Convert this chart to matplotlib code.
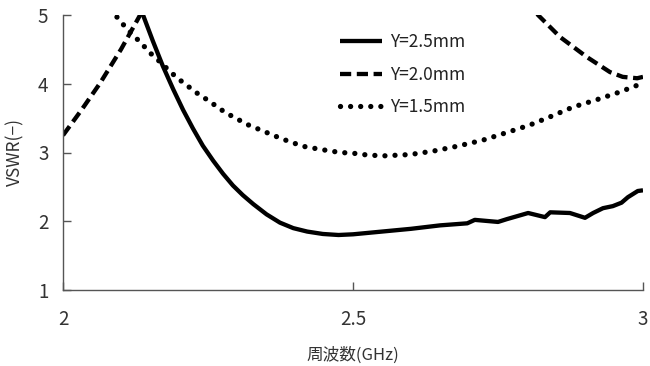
import matplotlib
matplotlib.use("Agg")
import matplotlib.pyplot as plt

plt.rcParams['font.family'] = ['Noto Sans CJK JP', 'DejaVu Sans']

# Y=2.5mm (solid)
f_25 = [2.13, 2.138, 2.155, 2.172, 2.19, 2.207, 2.224, 2.241, 2.259, 2.276, 2.293,
        2.31, 2.328, 2.351, 2.374, 2.397, 2.421, 2.448, 2.475, 2.5, 2.55, 2.6,
        2.65, 2.697, 2.71, 2.75, 2.765, 2.802, 2.831, 2.84, 2.874, 2.9, 2.914,
        2.931, 2.948, 2.963, 2.974, 2.991, 3.0]
v_25 = [5.2, 5.0, 4.62, 4.26, 3.92, 3.62, 3.35, 3.10, 2.88, 2.69, 2.52,
        2.38, 2.25, 2.10, 1.98, 1.90, 1.85, 1.815, 1.80, 1.81, 1.85, 1.89,
        1.94, 1.97, 2.02, 1.99, 2.03, 2.12, 2.06, 2.13, 2.12, 2.05, 2.12,
        2.19, 2.22, 2.27, 2.35, 2.44, 2.45]

# Y=2.0mm (dashed) - goes above the top of the plot in the middle
f_20 = [2.0, 2.032, 2.064, 2.1, 2.133, 2.145, 2.5, 2.80, 2.819, 2.857, 2.903,
        2.943, 2.965, 2.99, 3.0]
v_20 = [3.25, 3.62, 4.01, 4.5, 5.0, 5.25, 8.0, 5.3, 5.0, 4.68, 4.39,
        4.17, 4.1, 4.08, 4.1]

# Y=1.5mm (dotted)
f_15 = [2.085, 2.093, 2.110, 2.136, 2.15, 2.167, 2.182, 2.196, 2.213, 2.23, 2.248,
        2.265, 2.28, 2.3, 2.317, 2.337, 2.357, 2.377, 2.397, 2.414, 2.434, 2.455,
        2.478, 2.5, 2.517, 2.55, 2.598, 2.638, 2.679, 2.724, 2.765, 2.805, 2.84,
        2.879, 2.921, 2.96, 3.0]
v_15 = [5.1, 4.97, 4.8, 4.58, 4.45, 4.32, 4.2, 4.09, 3.98, 3.87, 3.77,
        3.67, 3.58, 3.49, 3.41, 3.34, 3.27, 3.2, 3.14, 3.09, 3.06, 3.03,
        3.0, 2.99, 2.97, 2.95, 2.97, 3.02, 3.09, 3.18, 3.29, 3.4, 3.52,
        3.66, 3.77, 3.88, 4.01]

labels = ['Y=2.5mm', 'Y=2.0mm', 'Y=1.5mm']
x_ticks = [2, 2.5, 3]
x_tick_labels = ['2', '2.5', '3']
y_ticks = [1, 2, 3, 4, 5]

fig = plt.figure(figsize=(6.5, 3.66), dpi=100)
ax = fig.add_axes([63/650, 76/366, 580/650, 275/366])

ax.plot(f_25, v_25, color='black', lw=3.1, solid_capstyle='butt',
        solid_joinstyle='round', label=labels[0])
ax.plot(f_20, v_20, color='black', lw=3.1, linestyle=(0, (2.6, 1.3)),
        dash_capstyle='butt', label=labels[1])
ax.plot(f_15, v_15, color='black', lw=3.8, linestyle=(0, (0.01, 1.9)),
        dash_capstyle='round', label=labels[2])

ax.set_xlim(2, 3)
ax.set_ylim(1, 5)
ax.set_xticks(x_ticks)
ax.set_xticklabels(x_tick_labels)
ax.set_yticks(y_ticks)

for s in ['top', 'right']:
    ax.spines[s].set_visible(False)
for s in ['left', 'bottom']:
    ax.spines[s].set_color('#555555')
    ax.spines[s].set_linewidth(1.0)

ax.tick_params(axis='both', direction='in', length=6, width=1, color='#555555',
               labelsize=13.5, labelcolor='#333333')
ax.tick_params(axis='y', pad=10.5)
ax.tick_params(axis='x', pad=14)

ax.set_xlabel('周波数(GHz)', fontsize=12, color='#333333', labelpad=12)
ax.set_ylabel('VSWR(−)', fontsize=12.5, color='#333333', labelpad=10)

leg = ax.legend(loc='upper left', bbox_to_anchor=(0.478, 0.935), frameon=False,
                fontsize=12.5, handlelength=2.4, handletextpad=0.45,
                labelspacing=0.85, borderpad=0, borderaxespad=0)
for t in leg.get_texts():
    t.set_color('#222222')

fig.savefig('out.png', dpi=100)
